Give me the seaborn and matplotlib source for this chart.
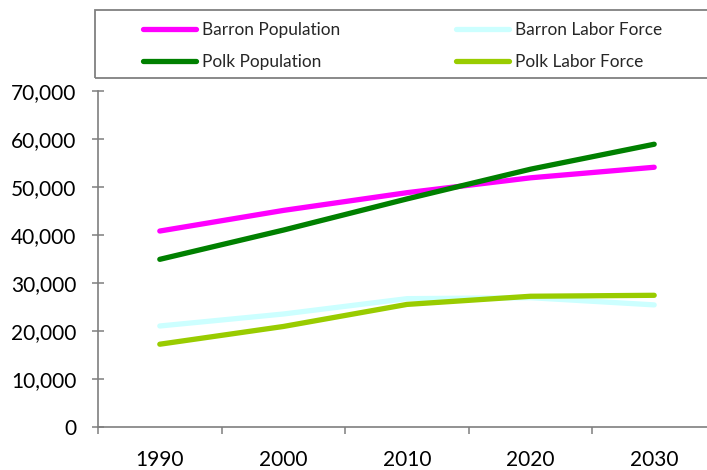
import matplotlib
matplotlib.use("Agg")
import matplotlib.pyplot as plt
import matplotlib.ticker as mticker
from matplotlib.patches import Rectangle
import numpy as np
import pandas as pd
import seaborn as sns

years = [1990, 2000, 2010, 2020, 2030]
barron_population = [40800, 45100, 48800, 51900, 54100]
barron_labor_force = [21000, 23500, 26700, 26900, 25400]
polk_population = [34900, 41000, 47500, 53700, 58900]
polk_labor_force = [17200, 20900, 25500, 27200, 27400]

series_names = ["Barron Population", "Barron Labor Force", "Polk Population", "Polk Labor Force"]
series_values = [barron_population, barron_labor_force, polk_population, polk_labor_force]
series_colors = ["#FF00FF", "#CCFFFF", "#008000", "#99CC00"]

rows = []
for name, vals in zip(series_names, series_values):
    for y, v in zip(years, vals):
        rows.append({"Year": y, "Value": v, "Series": name})
df = pd.DataFrame(rows)

sns.set_theme(style="white")
plt.rcParams["font.family"] = ["Lato", "DejaVu Sans"]

W, H = 707, 470
fig = plt.figure(figsize=(W / 100, H / 100), dpi=100)
ax = fig.add_axes([98 / W, 1 - 426.7 / H, 618 / W, (426.7 - 91) / H])

sns.lineplot(data=df, x="Year", y="Value", hue="Series", hue_order=series_names,
             palette=series_colors, linewidth=3.8, ax=ax, legend=False,
             estimator=None, sort=False)
for line in ax.get_lines():
    line.set_solid_capstyle("round")
    line.set_solid_joinstyle("round")

ax.set_xlim(1985, 2035)
ax.set_ylim(0, 70000)
ax.set_xlabel("")
ax.set_ylabel("")

axis_gray = "#7F7F7F"
for side in ["top", "right"]:
    ax.spines[side].set_visible(False)
for side in ["left", "bottom"]:
    ax.spines[side].set_color(axis_gray)
    ax.spines[side].set_linewidth(1.2)

ax.yaxis.set_major_locator(mticker.MultipleLocator(10000))
ax.yaxis.set_major_formatter(mticker.FuncFormatter(lambda v, p: f"{int(v):,}"))
ax.tick_params(axis="y", which="major", direction="inout", length=9, width=1.1,
               color=axis_gray, labelsize=15, pad=11, labelcolor="#000000", left=True)

# category boundaries as ticks, year labels centered between them
ax.xaxis.set_major_locator(mticker.FixedLocator([1985, 1995, 2005, 2015, 2025, 2035]))
ax.xaxis.set_major_formatter(mticker.NullFormatter())
ax.xaxis.set_minor_locator(mticker.FixedLocator(years))
ax.xaxis.set_minor_formatter(mticker.FixedFormatter([str(y) for y in years]))
ax.tick_params(axis="x", which="major", direction="out", length=5, width=1.1,
               color=axis_gray, bottom=True)
ax.tick_params(axis="x", which="minor", length=0, labelsize=15, pad=17,
               labelcolor="#000000", bottom=True)

# legend frame spanning the top of the figure
fig.patches.append(Rectangle((95 / W, 1 - 78 / H), 640 / W, 68 / H,
                             transform=fig.transFigure, fill=False,
                             edgecolor="#808080", linewidth=1.3))
handles = [plt.Line2D([], [], color=c, linewidth=3.8, solid_capstyle="round")
           for c in series_colors]
order = [0, 2, 1, 3]
leg = fig.legend([handles[i] for i in order], [series_names[i] for i in order],
                 loc="center left", bbox_to_anchor=(143 / W, 1 - 46 / H),
                 ncol=2, frameon=False, fontsize=12.4, handlelength=3.1,
                 handletextpad=0.35, columnspacing=6.7, labelspacing=0.95,
                 borderpad=0, borderaxespad=0)

fig.savefig("out.png", dpi=100)
